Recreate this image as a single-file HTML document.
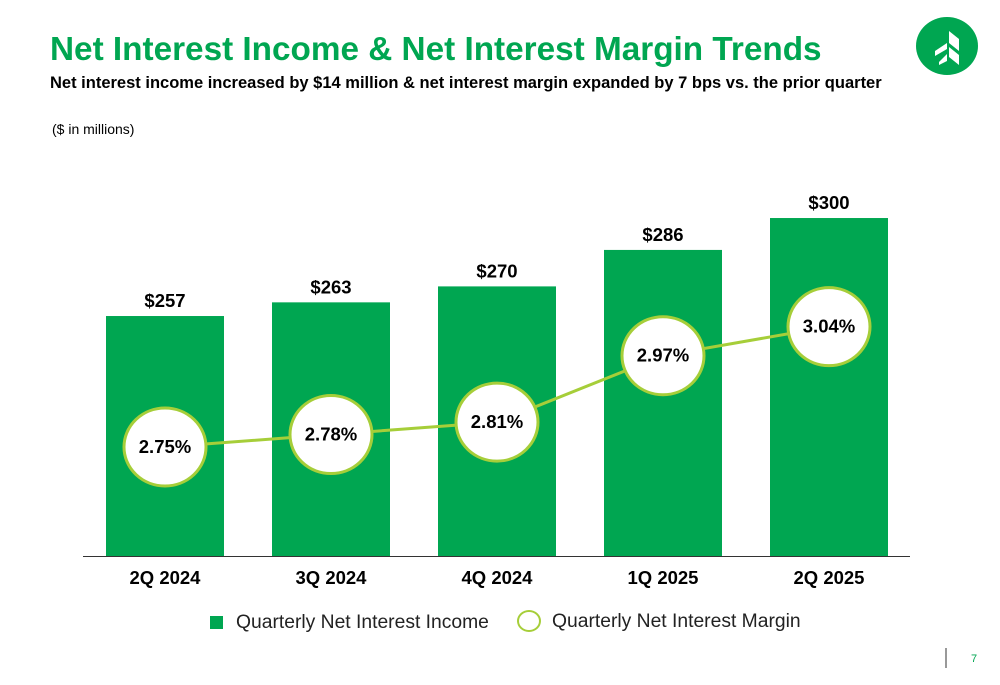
<!DOCTYPE html>
<html><head><meta charset="utf-8"><style>
body{margin:0;width:1000px;height:685px;background:#fff;font-family:"Liberation Sans",Arial,sans-serif;overflow:hidden;position:relative}
.t{position:absolute;white-space:nowrap}
</style></head><body>
<div class="t" style="left:50px;top:31px;font-size:33.3px;font-weight:bold;color:#00a651">Net Interest Income &amp; Net Interest Margin Trends</div>
<div class="t" style="left:50px;top:74px;font-size:16.5px;font-weight:bold;color:#000">Net interest income increased by $14 million &amp; net interest margin expanded by 7 bps vs. the prior quarter</div>
<div class="t" style="left:52px;top:121px;font-size:14px;color:#000">($ in millions)</div>
<svg style="position:absolute;left:915px;top:17px" width="64" height="58" viewBox="0 0 64 58">
<ellipse cx="32" cy="29" rx="31" ry="29" fill="#00a651"/>
<polygon points="34,14 44,22 44,34 34,26" fill="#fff"/>
<polygon points="34,30 44,38 44,48 34,40" fill="#fff"/>
<polygon points="32,26 20,34 20,39 32,32" fill="#fff"/>
<polygon points="32,37 24,45 24,48 32,44" fill="#fff"/>
</svg>
<svg id="chart" style="position:absolute;left:0;top:0" width="1000" height="685"></svg>
<div class="t" style="left:210px;top:612px;font-size:19.3px;color:#222"><span style="display:inline-block;width:13px;height:13px;background:#00a651;margin-right:13px;vertical-align:-1px"></span>Quarterly Net Interest Income</div>
<div class="t" style="left:517px;top:610px;font-size:19.3px;color:#222"><span style="display:inline-block;width:20px;height:18px;border:2.5px solid #a6ce39;border-radius:50%;margin-right:11px;vertical-align:-5px"></span>Quarterly Net Interest Margin</div>
<div style="position:absolute;left:945px;top:648px;width:2px;height:20px;background:#999"></div>
<div class="t" style="left:971px;top:653px;font-size:11px;color:#00a651">7</div>
<script>
const categories=["2Q 2024","3Q 2024","4Q 2024","1Q 2025","2Q 2025"];
const income=[257,263,270,286,300];
const margin=[2.75,2.78,2.81,2.97,3.04];
const svg=document.getElementById('chart');const NS='http://www.w3.org/2000/svg';
function mk(t,a){const e=document.createElementNS(NS,t);for(const k in a)e.setAttribute(k,a[k]);svg.appendChild(e);return e;}
const base=556;
const yBar=v=>base-(v-151.7)*2.279;
const yM=v=>447-(v-2.75)*415;
const xC=i=>165+i*166;
categories.forEach((c,i)=>{
 const r=mk('rect',{x:xC(i)-59,y:yBar(income[i]),width:118,height:base-yBar(income[i]),fill:'#00a651'});
 
 
 const l=mk('text',{x:xC(i),y:yBar(income[i])-9,'text-anchor':'middle','font-size':18.5,'font-weight':'bold',fill:'#000'});
 l.textContent='$'+income[i];
 
 
 const x=mk('text',{x:xC(i),y:584,'text-anchor':'middle','font-size':18.5,'font-weight':'bold',fill:'#000'});
 x.textContent=c;
 
 
});
const ax=mk('line',{x1:83,y1:base+0.5,x2:910,y2:base+0.5,stroke:'#333','stroke-width':1});


const pl=mk('polyline',{points:margin.map((v,i)=>xC(i)+','+yM(v)).join(' '),fill:'none',stroke:'#a6ce39','stroke-width':3});


margin.forEach((v,i)=>{
 const e=mk('ellipse',{cx:xC(i),cy:yM(v),rx:41,ry:39,fill:'#fff',stroke:'#a6ce39','stroke-width':3});
 
 
 const t=mk('text',{x:xC(i),y:yM(v)+6,'text-anchor':'middle','font-size':18.5,'font-weight':'bold',fill:'#000'});
 t.textContent=v.toFixed(2)+'%';
 
 
});
</script>
</body></html>
